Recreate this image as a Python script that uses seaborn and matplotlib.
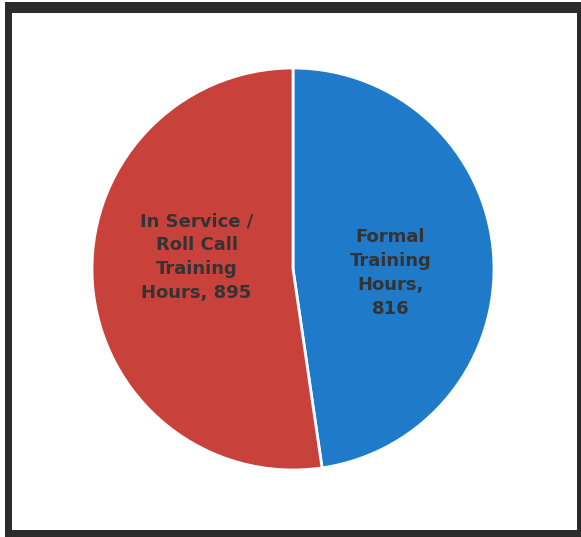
import matplotlib
matplotlib.use("Agg")
import matplotlib.pyplot as plt
import seaborn as sns
from matplotlib.patches import Rectangle

categories = ["Formal Training Hours", "In Service / Roll Call Training Hours"]
values = [816, 895]
labels = ["Formal\nTraining\nHours,\n816", "In Service /\nRoll Call\nTraining\nHours, 895"]
colors = ["#1F7BC9", "#C8423B"]

sns.set_theme(style="white")
plt.rcParams['font.family'] = ['DejaVu Sans']

W, H = 581, 537
fig = plt.figure(figsize=(W / 100, H / 100), dpi=100)
fig.patch.set_facecolor("white")

# frame
fig.patches.append(Rectangle((5 / W, 0), 1 - 5 / W, 1 - 2 / H, transform=fig.transFigure,
                             facecolor="#2b2b2b", edgecolor="none", zorder=-3))
fig.patches.append(Rectangle((12 / W, 7 / H), (577 - 12) / W, (527 - 10) / H, transform=fig.transFigure,
                             facecolor="white", edgecolor="none", zorder=-2))

cx, cy, r = 293, 269, 201
ax = fig.add_axes([(cx - r) / W, (H - cy - r) / H, 2 * r / W, 2 * r / H])
ax.set_facecolor("none")
ax.set_zorder(5)

wedges, _ = ax.pie(values, colors=colors, startangle=90, counterclock=False,
                   wedgeprops=dict(edgecolor="white", linewidth=2))
ax.set_xlim(-1.0, 1.0)
ax.set_ylim(-1.0, 1.0)
ax.set_aspect("equal")
ax.axis("off")

pos = [(0.485, -0.02), (-0.48, 0.06)]
for (x, y), lab in zip(pos, labels):
    ax.text(x, y, lab, ha="center", va="center", fontsize=13, fontweight="bold",
            color="#333333", linespacing=1.42)

fig.savefig("out.png", dpi=100)
